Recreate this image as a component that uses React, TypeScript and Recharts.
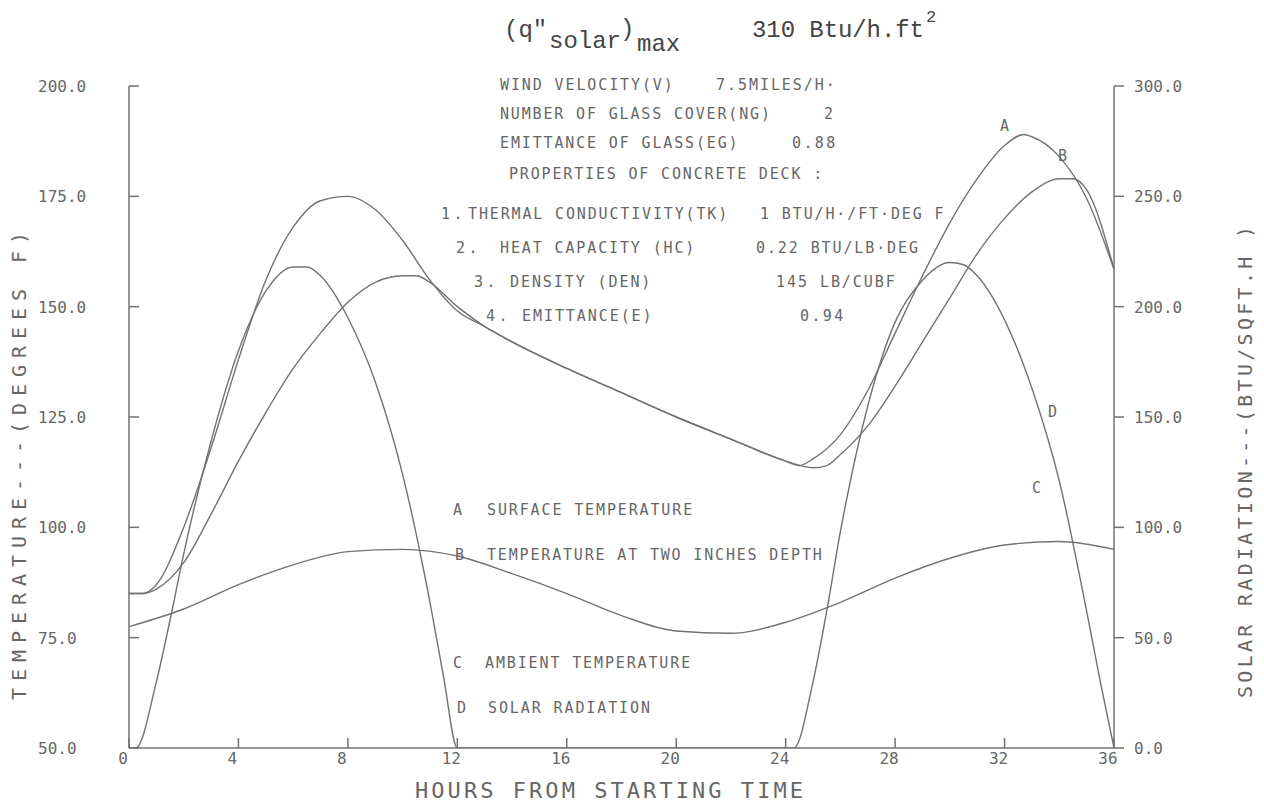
import { Line, LineChart, XAxis, YAxis } from 'recharts';

// hours from starting time
const hourTicks = [0, 4, 8, 12, 16, 20, 24, 28, 32, 36];
const tempTicks = [50, 75, 100, 125, 150, 175, 200];
const solarTicks = [0, 50, 100, 150, 200, 250, 300];

// A - surface temperature (deg F)
const hoursA = [0, 0.5, 1, 2, 3, 4, 5, 6, 7, 8, 9, 10, 11, 12, 13, 14, 16, 18, 20, 22, 24, 24.5, 25, 26, 27, 28, 29, 30, 31, 32, 32.7, 33, 34, 35, 36];
const surfaceTemp = [85, 85, 87, 100, 118, 138, 156, 168, 174, 175, 172, 165, 156, 149, 145.5, 142, 136, 130.5, 125, 120, 115, 114, 115.5, 121, 131, 144, 157, 169, 179, 186.5, 189, 188.5, 184, 174.5, 158.5];

// B - temperature at two inches depth (deg F)
const hoursB = [0, 0.5, 1, 2, 3, 4, 5, 6, 7, 8, 9, 10, 10.5, 11, 12, 13, 14, 16, 18, 20, 22, 24, 25, 25.5, 26, 27, 28, 29, 30, 31, 32, 33, 34, 34.5, 35, 36];
const depthTemp = [85, 85, 86, 92, 103, 115, 126, 136, 144, 151, 155.5, 157, 157, 155.5, 150, 145.5, 142, 136, 130.5, 125, 120, 115, 113.5, 114, 116.5, 123, 132, 142, 152, 162, 170, 176, 179, 179, 176.5, 158.5];

// C - ambient temperature (deg F)
const hoursC = [0, 2, 4, 6, 8, 10, 12, 14, 16, 18, 20, 22, 24, 26, 28, 30, 32, 34, 36];
const ambientTemp = [77.5, 81.5, 87, 91.5, 94.5, 95, 93.5, 89.5, 85, 80, 76.5, 76, 78.5, 83, 88.5, 93, 96, 96.8, 95];

// D - solar radiation (Btu/sqft.h)
const hoursD = [0, 0.25, 1, 1.5, 2, 3, 4, 5, 6, 6.5, 7, 8, 9, 10, 11, 11.5, 12, 18, 24.3, 25, 25.5, 26, 27, 28, 29, 30, 30.5, 31, 32, 33, 34, 35, 35.5, 36];
const solarRad = [0, 0, 30, 58, 88, 139, 180, 207, 218, 218, 214, 195, 166, 124, 66, 32, 0, 0, 0, 30, 62, 98, 155, 193, 212, 220, 219, 214, 194, 163, 121, 62, 30, 0];

const toPoints = (xs: number[], ys: number[]) => xs.map((h, i) => ({ h, v: ys[i] }));

const INK = '#666';
const LINE = '#727272';
const PLOT_FONT = '"DejaVu Sans Mono", monospace';
const TYPE_FONT = '"Liberation Mono", "DejaVu Sans Mono", monospace';
const PITCH = 10.8;

const LeftTick = ({ y, payload }: any) => (
  <text x={38} y={y} dy={6} fill={INK} fontSize={16} fontFamily={PLOT_FONT}>
    {Number(payload.value).toFixed(1)}
  </text>
);

const RightTick = ({ x, y, payload }: any) => (
  <text x={x} y={y} dy={6} fill={INK} fontSize={16} fontFamily={PLOT_FONT} textAnchor='start'>
    {Number(payload.value).toFixed(1)}
  </text>
);

const BottomTick = ({ x, y, payload }: any) => (
  <text x={x - 6} y={y} dy={6} fill={INK} fontSize={16} fontFamily={PLOT_FONT} textAnchor='middle'>
    {payload.value}
  </text>
);

// plotter text, fixed pitch
const Note = ({ x, y, size = 15, children }: any) => {
  const s = String(children);
  return (
    <text
      x={x}
      y={y + 5}
      fill={INK}
      fontSize={size}
      fontFamily={PLOT_FONT}
      textLength={s.length > 1 ? s.length * PITCH : undefined}
      lengthAdjust='spacing'
    >
      {s}
    </text>
  );
};

const seriesStyle = {
  type: 'monotone' as const,
  dataKey: 'v',
  dot: false,
  stroke: LINE,
  strokeWidth: 1.4,
  isAnimationActive: false,
};

export default function App() {
  return (
    <div style={{ position: 'absolute', left: 0, top: 0, width: 1264, height: 807, background: '#fff' }}>
      <LineChart
        width={1264}
        height={807}
        margin={{ top: 86, right: 90, bottom: 29, left: 69 }}
      >
        <XAxis
          dataKey='h'
          type='number'
          domain={[0, 36]}
          ticks={hourTicks}
          height={30}
          tick={<BottomTick />}
          tickSize={-10}
          tickMargin={20}
          axisLine={{ stroke: LINE, strokeWidth: 1.5 }}
          tickLine={{ stroke: LINE, strokeWidth: 1.5 }}
          allowDataOverflow
        />
        <YAxis
          yAxisId='left'
          type='number'
          domain={[50, 200]}
          ticks={tempTicks}
          width={60}
          tick={<LeftTick />}
          tickSize={-10}
          tickMargin={20}
          axisLine={{ stroke: LINE, strokeWidth: 1.5 }}
          tickLine={{ stroke: LINE, strokeWidth: 1.5 }}
          allowDataOverflow
        />
        <YAxis
          yAxisId='right'
          orientation='right'
          type='number'
          domain={[0, 300]}
          ticks={solarTicks}
          width={60}
          tick={<RightTick />}
          tickSize={10}
          tickMargin={10}
          axisLine={{ stroke: LINE, strokeWidth: 1.5 }}
          tickLine={{ stroke: LINE, strokeWidth: 1.5 }}
          allowDataOverflow
        />
        <Line data={toPoints(hoursC, ambientTemp)} yAxisId='left' {...seriesStyle} />
        <Line data={toPoints(hoursB, depthTemp)} yAxisId='left' {...seriesStyle} />
        <Line data={toPoints(hoursA, surfaceTemp)} yAxisId='left' {...seriesStyle} />
        <Line data={toPoints(hoursD, solarRad)} yAxisId='right' {...seriesStyle} />
      </LineChart>

      <svg
        width={1264}
        height={807}
        style={{ position: 'absolute', left: 0, top: 0, pointerEvents: 'none' }}
      >
        {/* typed title */}
        <g fill='#444' fontFamily={TYPE_FONT}>
          <text x={504} y={37} fontSize={24}>(q"</text>
          <text x={549} y={48} fontSize={24}>solar</text>
          <text x={620} y={36} fontSize={24}>)</text>
          <text x={637} y={51} fontSize={24}>max</text>
          <text x={752} y={37} fontSize={24} textLength={172} lengthAdjust='spacing'>310 Btu/h.ft</text>
          <text x={926} y={22} fontSize={17}>2</text>
        </g>

        {/* run parameters */}
        <Note x={500} y={85}>WIND VELOCITY(V)</Note>
        <Note x={716} y={85}>7.5MILES/H·</Note>
        <Note x={500} y={114}>NUMBER OF GLASS COVER(NG)</Note>
        <Note x={824} y={114}>2</Note>
        <Note x={500} y={143}>EMITTANCE OF GLASS(EG)</Note>
        <Note x={792} y={143}>0.88</Note>
        <Note x={509} y={174}>PROPERTIES OF CONCRETE DECK :</Note>
        <Note x={441} y={214}>1.</Note>
        <Note x={468} y={214}>THERMAL CONDUCTIVITY(TK)</Note>
        <Note x={760} y={214}>1 BTU/H·/FT·DEG F</Note>
        <Note x={456} y={248}>2.</Note>
        <Note x={500} y={248}>HEAT CAPACITY (HC)</Note>
        <Note x={756} y={248}>0.22 BTU/LB·DEG</Note>
        <Note x={474} y={282}>3.</Note>
        <Note x={510} y={282}>DENSITY (DEN)</Note>
        <Note x={776} y={282}>145 LB/CUBF</Note>
        <Note x={486} y={316}>4.</Note>
        <Note x={522} y={316}>EMITTANCE(E)</Note>
        <Note x={800} y={316}>0.94</Note>

        {/* legend */}
        <Note x={453} y={510}>A</Note>
        <Note x={487} y={510}>SURFACE TEMPERATURE</Note>
        <Note x={455} y={555}>B</Note>
        <Note x={487} y={555}>TEMPERATURE AT TWO INCHES DEPTH</Note>
        <Note x={453} y={663}>C</Note>
        <Note x={485} y={663}>AMBIENT TEMPERATURE</Note>
        <Note x={457} y={708}>D</Note>
        <Note x={488} y={708}>SOLAR RADIATION</Note>

        {/* curve tags */}
        <Note x={1000} y={126}>A</Note>
        <Note x={1058} y={156}>B</Note>
        <Note x={1032} y={488}>C</Note>
        <Note x={1048} y={412}>D</Note>

        {/* axis titles */}
        <text
          x={0}
          y={0}
          transform='translate(26 466) rotate(-90)'
          textAnchor='middle'
          fill={INK}
          fontSize={20}
          fontFamily={PLOT_FONT}
          textLength={468}
          lengthAdjust='spacing'
        >
          TEMPERATURE---(DEGREES F)
        </text>
        <text
          x={0}
          y={0}
          transform='translate(1252 462) rotate(-90)'
          textAnchor='middle'
          fill={INK}
          fontSize={20}
          fontFamily={PLOT_FONT}
          textLength={472}
          lengthAdjust='spacing'
        >
          SOLAR RADIATION---(BTU/SQFT.H )
        </text>
        <text
          x={415}
          y={798}
          fill={INK}
          fontSize={22}
          fontFamily={PLOT_FONT}
          textLength={388}
          lengthAdjust='spacing'
        >
          HOURS FROM STARTING TIME
        </text>
      </svg>
    </div>
  );
}
